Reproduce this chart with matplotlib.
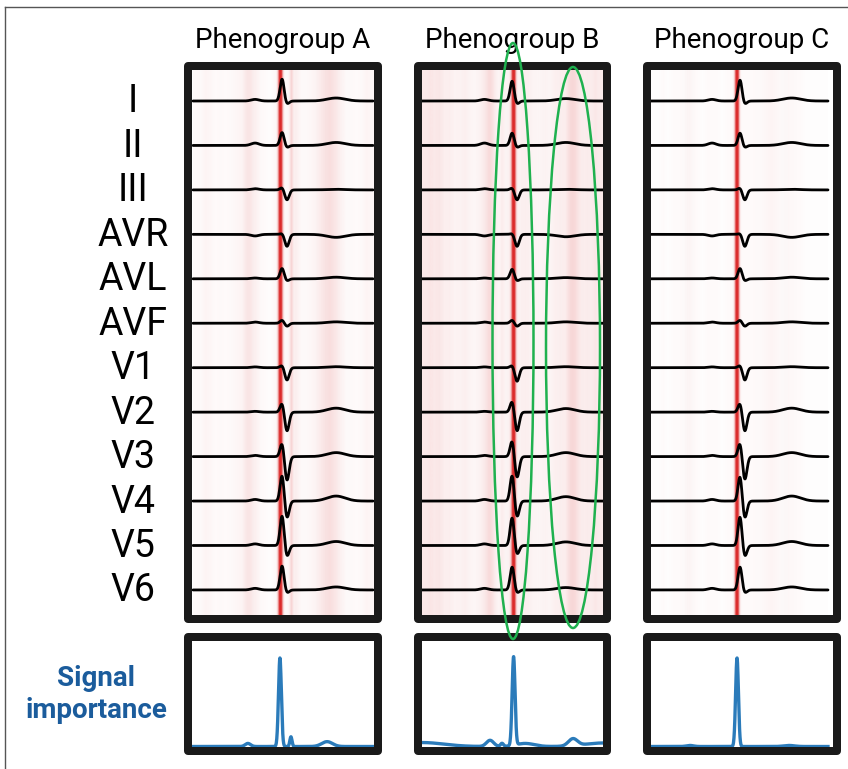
import numpy as np
import matplotlib
matplotlib.use("Agg")
import matplotlib.pyplot as plt
from matplotlib.patches import Rectangle, Ellipse
from matplotlib.colors import LinearSegmentedColormap, ListedColormap

plt.rcParams['font.family'] = ['Roboto', 'DejaVu Sans']

# ---------------- data ----------------
leads = ['I', 'II', 'III', 'AVR', 'AVL', 'AVF', 'V1', 'V2', 'V3', 'V4', 'V5', 'V6']
groups = ['Phenogroup A', 'Phenogroup B', 'Phenogroup C']

# wave amplitudes per lead (arbitrary units)
p_A = [0.08, 0.12, 0.06, -0.08, 0.04, 0.06, 0.04, 0.04, 0.06, 0.08, 0.08, 0.08]
r_A = [1.10, 0.65, 0.12, 0.05, 0.52, 0.15, 0.12, 0.45, 0.68, 1.30, 1.50, 1.20]
s_A = [-0.15, -0.10, -0.50, -0.60, -0.10, -0.15, -0.62, -0.95, -1.20, -0.85, -0.55, -0.15]
t_A = [0.15, 0.15, 0.03, -0.15, 0.08, 0.07, 0.05, 0.20, 0.20, 0.25, 0.20, 0.15]

p_B = [0.08, 0.12, 0.06, -0.08, 0.04, 0.06, 0.04, 0.04, 0.06, 0.08, 0.08, 0.08]
r_B = [1.00, 0.62, 0.10, 0.05, 0.48, 0.15, 0.12, 0.55, 0.80, 1.30, 1.40, 1.15]
s_B = [-0.15, -0.10, -0.50, -0.60, -0.10, -0.15, -0.68, -0.95, -1.05, -0.80, -0.45, -0.15]
t_B = [0.12, 0.15, 0.03, -0.12, 0.06, 0.07, 0.05, 0.18, 0.20, 0.22, 0.18, 0.12]

p_C = [0.08, 0.12, 0.06, -0.08, 0.04, 0.06, 0.04, 0.04, 0.06, 0.08, 0.08, 0.08]
r_C = [1.05, 0.62, 0.10, 0.05, 0.52, 0.15, 0.12, 0.45, 0.68, 1.25, 1.45, 1.15]
s_C = [-0.15, -0.10, -0.50, -0.60, -0.10, -0.15, -0.62, -0.95, -1.15, -0.85, -0.55, -0.15]
t_C = [0.15, 0.15, 0.03, -0.15, 0.08, 0.07, 0.05, 0.20, 0.20, 0.25, 0.20, 0.15]

# timing of waves (fraction of window)
p_time = 0.345
t_time = 0.795
qrs_time = [0.495, 0.498, 0.503]

# signal importance components: centre, height, width
imp_t_A = [0.305, 0.483, 0.544, 0.745]
imp_h_A = [0.035, 1.00, 0.11, 0.055]
imp_w_A = [0.015, 0.008, 0.006, 0.030]

imp_t_B = [0.00, 0.376, 0.442, 0.506, 0.57, 0.834, 1.00]
imp_h_B = [0.045, 0.07, 0.035, 1.00, 0.035, 0.08, 0.04]
imp_w_B = [0.12, 0.02, 0.008, 0.008, 0.05, 0.025, 0.10]

imp_t_C = [0.22, 0.486, 0.78]
imp_h_C = [0.012, 1.00, 0.012]
imp_w_C = [0.02, 0.008, 0.03]

# faint background saliency stripes (36 bins across the window)
stripes_A = [0.02, 0.03, 0.05, 0.04, 0.02, 0.03, 0.02, 0.03, 0.04, 0.05, 0.08, 0.09,
             0.07, 0.03, 0.02, 0.01, 0.03, 0.06, 0.02, 0.07, 0.08, 0.03, 0.03, 0.04,
             0.06, 0.07, 0.08, 0.10, 0.09, 0.06, 0.03, 0.03, 0.02, 0.03, 0.05, 0.04]
stripes_B = [0.05, 0.07, 0.06, 0.08, 0.05, 0.06, 0.04, 0.05, 0.07, 0.05, 0.04, 0.06,
             0.08, 0.09, 0.06, 0.04, 0.05, 0.06, 0.03, 0.03, 0.04, 0.03, 0.03, 0.04,
             0.06, 0.05, 0.07, 0.08, 0.06, 0.09, 0.07, 0.05, 0.06, 0.05, 0.07, 0.04]
stripes_C = [0.01, 0.01, 0.02, 0.01, 0.02, 0.02, 0.03, 0.04, 0.03, 0.02, 0.01, 0.02,
             0.02, 0.02, 0.01, 0.02, 0.02, 0.03, 0.02, 0.02, 0.02, 0.03, 0.03, 0.04,
             0.05, 0.04, 0.03, 0.03, 0.02, 0.02, 0.02, 0.01, 0.01, 0.01, 0.01, 0.01]

ecg = {
    'Phenogroup A': (p_A, r_A, s_A, t_A),
    'Phenogroup B': (p_B, r_B, s_B, t_B),
    'Phenogroup C': (p_C, r_C, s_C, t_C),
}
importance = {
    'Phenogroup A': (imp_t_A, imp_h_A, imp_w_A),
    'Phenogroup B': (imp_t_B, imp_h_B, imp_w_B),
    'Phenogroup C': (imp_t_C, imp_h_C, imp_w_C),
}
stripes = {'Phenogroup A': stripes_A, 'Phenogroup B': stripes_B, 'Phenogroup C': stripes_C}

# ---------------- layout (pixels) ----------------
W, H = 848, 769
fig = plt.figure(figsize=(W / 100, H / 100), dpi=100)

panel_x = [(188, 378), (417.5, 606.5), (646.5, 837)]      # border centre lines
trace_x = [(193, 373), (422, 603), (651, 828)]             # extent of traces
main_y = (65.5, 618.5)
imp_y = (637, 750.5)
lead_y0, lead_dy = 101, 44.45
border_lw = 8 * 0.72
amp_scale = 20 / lead_dy


def rect(x0, x1, y0, y1):
    return [x0 / W, 1 - y1 / H, (x1 - x0) / W, (y1 - y0) / H]


def gauss(t, c, w):
    return np.exp(-0.5 * ((t - c) / w) ** 2)


def add_border(ax):
    ax.add_patch(Rectangle((0, 0), 1, 1, transform=ax.transAxes, fill=False,
                           lw=border_lw, ec='#1a1a1a', joinstyle='round',
                           clip_on=False, zorder=10))


heat_cmap = LinearSegmentedColormap.from_list('pink', ['#ffffff', '#d62a2a'])
red_rgba = np.zeros((256, 4))
red_rgba[:, 0] = 0.86
red_rgba[:, 1] = 0.17
red_rgba[:, 2] = 0.17
red_rgba[:, 3] = np.clip(np.linspace(0, 1, 256) * 1.3, 0, 1)
red_cmap = ListedColormap(red_rgba)

t = np.linspace(0, 1, 1200)

for gi, g in enumerate(groups):
    px0, px1 = panel_x[gi]
    tx0, tx1 = trace_x[gi]
    span = tx1 - tx0
    xlim = ((px0 - tx0) / span, (px1 - tx0) / span)

    ic, ih, iw = importance[g]
    imp = np.zeros_like(t)
    for c, h, w in zip(ic, ih, iw):
        imp += h * gauss(t, c, w)

    # ---- ECG panel ----
    ax = fig.add_axes(rect(px0, px1, *main_y))
    ylim_top = (lead_y0 - main_y[0]) / lead_dy
    ylim_bot = -(main_y[1] - lead_y0) / lead_dy
    ax.set_xlim(*xlim)
    ax.set_ylim(ylim_bot, ylim_top)
    ax.axis('off')
    ax.imshow(np.array(stripes[g])[None, :], cmap=heat_cmap, vmin=0, vmax=1,
              aspect='auto', extent=(0, 1, ylim_bot, ylim_top),
              interpolation='bilinear', zorder=0)
    ax.imshow(imp[None, :], cmap=red_cmap, vmin=0, vmax=1, aspect='auto',
              extent=(0, 1, ylim_bot, ylim_top), interpolation='bilinear', zorder=1)
    pa, ra, sa, ta = ecg[g]
    qc = qrs_time[gi]
    for li in range(len(leads)):
        y = (pa[li] * gauss(t, p_time, 0.022) + ra[li] * gauss(t, qc, 0.011)
             + sa[li] * gauss(t, qc + 0.027, 0.012) + ta[li] * gauss(t, t_time, 0.05))
        ax.plot(t, -li + y * amp_scale, color='black', lw=2.0, zorder=3,
                solid_capstyle='round')
    add_border(ax)

    # ---- importance panel ----
    bx = fig.add_axes(rect(px0, px1, *imp_y))
    bx.set_xlim(*xlim)
    bx.set_ylim(-0.045, 1.237)
    bx.axis('off')
    bx.plot(t, imp, color='#2b7bba', lw=2.4, zorder=3)
    add_border(bx)

    fig.text((px0 + px1) / 2 / W, 1 - 48 / H, g, ha='center', va='baseline',
             fontsize=20, color='black')

# lead labels
for li, name in enumerate(leads):
    fig.text(133 / W, 1 - (lead_y0 + 1 + li * lead_dy) / H, name, ha='center',
             va='center', fontsize=27, color='black')

fig.text(96 / W, 1 - 678 / H, 'Signal', ha='center', va='center',
         fontsize=20, fontweight='bold', color='#1b5c9c')
fig.text(96 / W, 1 - 710 / H, 'importance', ha='center', va='center',
         fontsize=20, fontweight='bold', color='#1b5c9c')

# green ellipses on phenogroup B
for cx, cy, ew, eh in [(513, 341, 41, 596), (573, 347.5, 54, 561)]:
    fig.patches.append(Ellipse((cx / W, 1 - cy / H), ew / W, eh / H,
                               transform=fig.transFigure, fill=False,
                               ec='#1fb14f', lw=1.8, zorder=20))

# thin frame on the left and top
fig.add_artist(plt.Line2D([4.5 / W, 4.5 / W], [0, 1 - 7 / H], color='#555555',
                          lw=1.0, transform=fig.transFigure))
fig.add_artist(plt.Line2D([4.5 / W, 1], [1 - 7 / H, 1 - 7 / H], color='#555555',
                          lw=1.0, transform=fig.transFigure))

fig.savefig('out.png', dpi=100, facecolor='white')
